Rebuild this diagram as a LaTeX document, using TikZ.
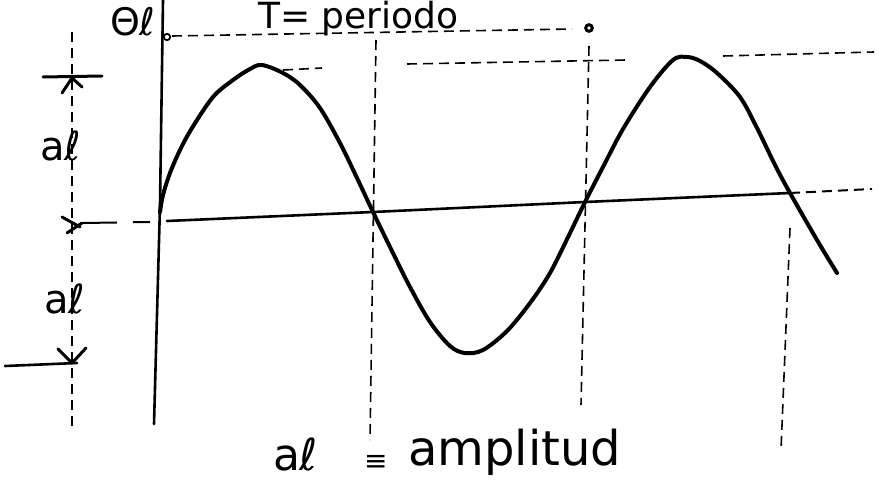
\documentclass[tikz,border=0pt]{standalone}
\usepackage{fontspec}
\setmainfont{DejaVu Sans}
\begin{document}
\begin{tikzpicture}[x=1pt,y=-1pt,
  wave/.style={line width=4pt, line cap=round, line join=round},
  axisline/.style={line width=2.6pt, line cap=round},
  guide/.style={line width=1.6pt, dash pattern=on 10pt off 6pt},
  tick/.style={line width=3pt, line cap=round, line join=round},
  lbl/.style={anchor=base west, inner sep=0pt, outer sep=0pt}]
\useasboundingbox (0,0) rectangle (890,495);
\fill[white] (0,0) rectangle (890,495);

% key points
\coordinate (axtop) at (163,0);
\coordinate (axmid) at (160,205);
\coordinate (axbot) at (154,424);
\coordinate (orig) at (167,37);
\coordinate (tdot) at (589,28);
\coordinate (h0) at (167,221);
\coordinate (c1) at (373,212);
\coordinate (c2) at (585,202);
\coordinate (c3) at (790,193);
\coordinate (hend) at (872,189);

% vertical axis
\draw[axisline] (axtop) -- (axmid) -- (axbot);
% small open circle at the origin of the period line
\draw[line width=1.8pt, fill=white] (orig) circle (3.2pt);
% period line (dashed) and end dot
\draw[guide] (172,36) -- (572,29);
\draw[line width=3pt, fill=white] (tdot) circle (3.3pt);

% horizontal axis
\draw[axisline] (h0) -- (c1) -- (c2) -- (c3);
\draw[guide, line width=2pt] (c3) -- (hend);

% peak-level dashed lines
\draw[guide] (283,70) -- (322,68);
\draw[guide] (407,64) -- (626,60);
\draw[guide] (723,56) -- (874,52);

% vertical dashed guides
\draw[guide] (376,40) -- (370,440);
\draw[guide] (589,46) -- (581,405);
\draw[guide] (790,228) -- (781,450);

% amplitude dimension (left)
\draw[guide] (72,32) -- (72,430);
\draw[tick] (43,77) -- (102,76);
\draw[tick] (62,93) -- (72,78) -- (82,87);
\draw[tick] (62,217) -- (80,227);
\draw[tick] (67,233) -- (82,223);
\draw[line width=2pt, dash pattern=on 34pt off 16pt] (83,223) -- (150,222);
\draw[tick] (58,349) -- (72,363) -- (86,348);
\draw[line width=2.6pt, line cap=round] (5,366) -- (77,363);

% the wave
\draw[wave] plot[smooth, tension=0.55] coordinates {
 (160,212) (163,195) (170,173) (180,150) (192,128) (213,97) (233,80) (250,69)
 (262,65) (283,73) (300,85) (320,108) (340,143) (357,178) (373,212) (390,247)
 (410,287) (430,322) (450,346) (465,353) (483,350) (507,331) (530,303) (550,273)
 (570,233) (585,202) (603,167) (623,129) (650,87) (673,60) (687,57) (700,61)
 (717,73) (740,97) (757,128) (775,165) (790,193) (817,240) (837,273)};

% labels
\node[lbl, font=\fontsize{38}{38}\selectfont] (thl) at (110,36) {Θℓ};
\node[lbl, font=\fontsize{36}{36}\selectfont] (per) at (258,29) {T= periodo};
\node[lbl, font=\fontsize{40}{40}\selectfont] (al1) at (40,160) {aℓ};
\node[lbl, font=\fontsize{40}{40}\selectfont] (al2) at (44,313) {aℓ};
\node[lbl, font=\fontsize{44}{44}\selectfont] (al3) at (273,470) {aℓ};
\node[lbl, font=\fontsize{28}{28}\selectfont] (eqv) at (364,470) {≡};
\node[lbl, font=\fontsize{48}{48}\selectfont] (amp) at (408,465) {amplitud};
\end{tikzpicture}
\end{document}
